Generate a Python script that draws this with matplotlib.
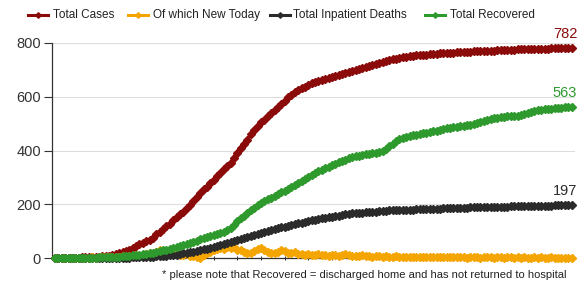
import matplotlib
matplotlib.use("Agg")
import matplotlib.pyplot as plt
from matplotlib.lines import Line2D

plt.rcParams['font.family'] = ['Liberation Sans', 'DejaVu Sans']

total_cases = [
    0,0,0,0,0,1,1,1,2,2,
    3,3,4,5,6,7,9,11,14,17,
    22,26,31,37,44,51,56,62,68,76,
    88,98,108,118,128,140,151,162,172,185,
    198,212,228,241,255,266,278,292,305,318,
    330,342,355,372,392,410,425,440,462,475,
    490,505,515,528,540,552,562,572,585,598,
    608,617,625,632,638,644,650,655,660,663,
    667,670,673,677,680,684,688,691,694,698,
    702,706,710,714,719,723,727,731,734,737,
    740,742,745,747,749,751,752,754,755,756,
    757,758,759,760,761,762,763,764,764,765,
    766,767,767,768,769,769,770,771,771,772,
    772,773,773,774,774,775,775,776,776,777,
    777,778,778,778,779,779,779,780,780,780,
    781,781,781,782]

new_today = [
    0,0,0,0,0,0,0,1,0,1,
    1,2,1,2,3,2,4,3,5,4,
    6,5,8,6,10,8,12,14,18,16,
    22,28,24,18,20,14,16,12,10,14,
    8,6,4,0,10,18,22,28,32,38,
    34,42,36,40,30,28,24,18,20,26,
    32,36,28,22,18,20,24,30,26,20,
    18,22,16,14,12,16,10,12,14,10,
    12,8,10,12,8,10,14,10,8,6,
    8,10,6,8,5,6,8,4,6,5,
    4,6,3,5,4,3,5,4,2,3,
    4,3,2,3,4,2,3,2,3,2,
    2,3,1,2,3,2,1,2,3,2,
    1,2,2,1,3,2,1,2,1,2,
    1,1,2,1,2,1,1,2,1,1,
    1,0,1,1]

deaths = [
    0,0,0,0,0,0,0,0,0,0,
    0,0,0,0,0,0,0,0,0,1,
    1,1,1,2,2,2,3,3,4,5,
    6,7,8,9,10,12,13,15,17,19,
    21,23,26,29,32,35,38,41,44,48,
    51,55,59,62,66,70,74,78,82,86,
    90,94,98,101,104,108,111,114,117,120,
    123,126,129,132,135,138,141,143,146,148,
    150,152,154,156,158,160,162,164,166,167,
    168,169,170,171,172,173,174,175,176,177,
    177,178,178,179,179,180,180,181,181,182,
    182,183,183,184,184,185,185,185,186,186,
    186,187,187,188,188,188,189,189,189,190,
    190,190,191,191,191,192,192,192,193,193,
    193,194,194,194,195,195,195,195,196,196,
    196,196,197,197]

recovered = [
    0,0,0,0,0,0,0,0,0,1,
    1,1,1,2,2,2,3,3,4,5,
    6,7,8,10,11,13,14,16,18,20,
    22,25,28,31,34,37,41,45,49,53,
    57,61,65,69,73,77,81,85,89,93,
    98,104,112,124,136,148,158,168,178,187,
    196,204,211,218,225,232,238,244,250,257,
    264,271,279,287,295,303,310,316,322,328,
    334,340,346,351,356,361,366,371,375,378,
    381,384,386,388,390,392,394,397,405,415,
    425,434,441,446,450,454,457,459,462,464,
    466,468,471,474,477,480,483,485,487,489,
    490,492,494,496,498,501,505,509,513,517,
    520,522,524,526,527,528,529,530,532,535,
    539,543,547,550,552,553,554,556,557,559,
    560,561,562,563]

series_names = ["Total Cases", "Of which New Today", "Total Inpatient Deaths", "Total Recovered"]
series_data = [total_cases, new_today, deaths, recovered]
colors = ["#8B0A0A", "#F5A500", "#2B2B2B", "#2E9A2E"]
y_ticks = [0, 200, 400, 600, 800]
footnote = "* please note that Recovered = discharged home and has not returned to hospital"

W, H = 579, 281
fig = plt.figure(figsize=(W / 100, H / 100), dpi=100)
ax = fig.add_axes([52 / W, 1 - 258 / H, (575 - 52) / W, (258 - 43) / H])

days = list(range(len(total_cases)))
for name, data, c in zip(series_names, series_data, colors):
    ax.plot(days, data, color=c, lw=1.8, marker='D', ms=3.8, mec=c, mfc=c,
            clip_on=False, zorder=3)

ax.set_xlim(-0.9, 154)
ax.set_ylim(0, 800)
ax.set_yticks(y_ticks)
ax.set_xticks(list(range(5, len(days), 7)))
ax.set_xticklabels([])
ax.tick_params(axis='y', length=6, width=0.8, pad=2, labelsize=10.5, labelcolor='#333333', color='#333333')
ax.tick_params(axis='x', length=3, width=0.8, direction='inout', color='#333333')
ax.grid(axis='y', color='#dddddd', lw=0.8)
ax.set_axisbelow(True)
for s in ['top', 'right']:
    ax.spines[s].set_visible(False)
for s in ['left', 'bottom']:
    ax.spines[s].set_color('#333333')
    ax.spines[s].set_linewidth(0.9)

# end labels
for data, c in [(total_cases, colors[0]), (recovered, colors[3]), (deaths, colors[2])]:
    ax.annotate(str(data[-1]), xy=(days[-1], data[-1]), xytext=(4, 5), textcoords='offset points',
                ha='right', va='bottom', fontsize=10.5, color=c, annotation_clip=False)

# legend
leg_items = [(28, 53), (128, 153), (270, 293), (425, 450)]
ly = 1 - 15 / H
for (lx, tx), name, c in zip(leg_items, series_names, colors):
    fig.add_artist(Line2D([lx / W, (lx + 20) / W], [ly, ly], color=c, lw=2.2,
                          transform=fig.transFigure))
    fig.add_artist(Line2D([(lx + 10) / W], [ly], color=c, marker='D', ms=2.8, ls='none',
                          transform=fig.transFigure))
    fig.text(tx / W, ly, name, fontsize=8.5, color='#222222', va='center', ha='left')

fig.text(567 / W, 1 - 275 / H, footnote, fontsize=8.0, color='#222222', ha='right', va='center')

fig.savefig("out.png", dpi=100)
